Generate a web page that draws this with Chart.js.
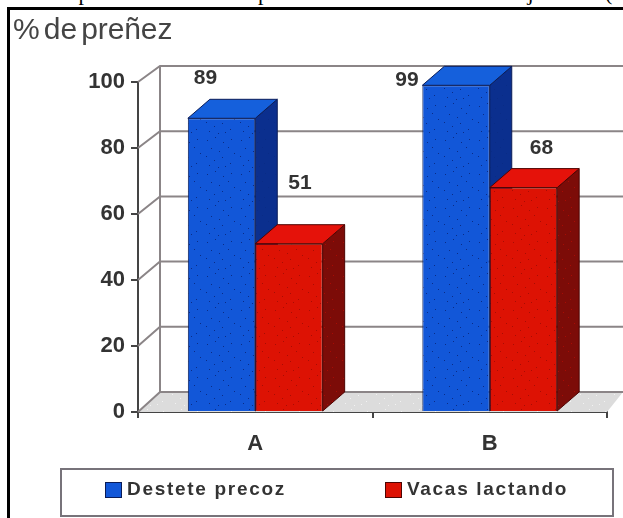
<!DOCTYPE html>
<html>
<head>
<meta charset="utf-8">
<style>
  html, body { margin: 0; padding: 0; background: #fff; overflow: hidden; width: 623px; height: 518px; }
  #chart_content { position: absolute; left: 0; top: 0; }
  #frame { position: absolute; left: 7px; top: 7px; width: 700px; height: 600px; border-left: 3px solid #000; border-top: 3px solid #000; }
  .cut { position: absolute; top: -20px; font: 22px/26px "Liberation Serif", serif; color: #000; white-space: pre; }
</style>
</head>
<body>
<div class="cut" style="left:12px">destete precoz sobre la</div>
<div class="cut" style="left:258px">preñez de vacas de</div>
<div class="cut" style="left:433px;word-spacing:10px">de la Hoja GC (E</div>
<div id="frame"></div>
<canvas id="chart_content" width="623" height="518"></canvas>
<script src="https://cdn.jsdelivr.net/npm/chart.js@4"></script>
<script>
var categories = ["A", "B"];
var seriesNames = ["Destete precoz", "Vacas lactando"];
var desteteValues = [89, 99];
var vacasValues = [51, 68];
var yTicks = [0, 20, 40, 60, 80, 100];
var yTitle = "% de preñez";

// label position relative to the top centre of the front face, per series then category
var labelOffsets = [
  [[-16, -40], [-49, -5]],
  [[11, -60], [18, -39]],
];
var blues = { front: "#1257d8", top: "#1560dc", side: "#0b2f8e", edge: "#0a1c58", dot: "#0a2c86" };
var reds = { front: "#dd1204", top: "#e5120a", side: "#7c0c08", edge: "#4e0402", dot: "#a80c04" };
var tones = [blues, reds];
var textColor = "#333";
var wallLine = "#8b8587";
var depthX = 22;
var depthY = 19;

// stipple tile for the bar faces, fixed dot positions
var dots = [[3, 4], [11, 1], [19, 6], [27, 3], [7, 12], [15, 15], [24, 11], [30, 17], [2, 20], [10, 24], [18, 21], [26, 27], [5, 29], [14, 31], [21, 30]];
function stipple(base, dot) {
  var tile = document.createElement("canvas");
  tile.width = 34;
  tile.height = 34;
  var c = tile.getContext("2d");
  c.fillStyle = base;
  c.fillRect(0, 0, 34, 34);
  c.fillStyle = dot;
  dots.forEach(function (d) {
    c.fillRect(d[0], d[1], 1, 1);
  });
  return c.createPattern(tile, "repeat");
}

var canvasElement = document.getElementById("chart_content");

function poly(c, pts, fill, stroke) {
  c.beginPath();
  pts.forEach(function (p, i) {
    if (i == 0) c.moveTo(p[0], p[1]);
    else c.lineTo(p[0], p[1]);
  });
  c.closePath();
  c.fillStyle = fill;
  c.fill();
  if (stroke) {
    c.strokeStyle = stroke;
    c.lineWidth = 1;
    c.stroke();
  }
}

var backdrop = {
  id: "backdrop",
  beforeDatasetsDraw: function (chart) {
    var c = chart.ctx;
    var y = chart.scales.y;
    var area = chart.chartArea;
    var y0 = y.getPixelForValue(0);
    var wallX = area.left + 22;
    var wallRight = 623;

    c.save();
    // floor
    poly(c, [[area.left, y0], [wallX, y0 - 20], [wallRight, y0 - 20], [area.right, y0]], stipple("#dcdcdc", "#f2f2f2"));
    // back wall lines, a bit closer together than the front ticks
    c.strokeStyle = wallLine;
    c.lineWidth = 2;
    yTicks.forEach(function (t) {
      var py = y.getPixelForValue(t);
      var back = y0 - 20 + (py - y0) * 326 / 330;
      c.beginPath();
      c.moveTo(area.left, py);
      c.lineTo(wallX, back);
      c.lineTo(wallRight, back);
      c.stroke();
    });
    c.beginPath();
    c.moveTo(wallX, y.getPixelForValue(100) - 16);
    c.lineTo(wallX, y0 - 20);
    c.stroke();

    // sides and tops of the bars
    chart.data.datasets.forEach(function (ds, i) {
      var tone = tones[i];
      chart.getDatasetMeta(i).data.forEach(function (bar) {
        var l = bar.x - bar.width / 2;
        var r = bar.x + bar.width / 2;
        poly(c, [[r, bar.y], [r + depthX, bar.y - depthY], [r + depthX, bar.base - depthY], [r, bar.base]], stipple(tone.side, tone.dot), tone.edge);
        poly(c, [[l, bar.y], [l + depthX, bar.y - depthY], [r + depthX, bar.y - depthY], [r, bar.y]], tone.top, tone.edge);
      });
    });
    c.restore();
  },
  afterDatasetsDraw: function (chart) {
    var c = chart.ctx;
    c.save();
    // value labels
    c.font = "bold 21px 'Liberation Sans', Arial, sans-serif";
    c.fillStyle = textColor;
    c.textAlign = "center";
    c.textBaseline = "middle";
    chart.data.datasets.forEach(function (ds, i) {
      chart.getDatasetMeta(i).data.forEach(function (bar, j) {
        c.fillText(ds.data[j], bar.x + labelOffsets[i][j][0], bar.y + labelOffsets[i][j][1]);
      });
    });

    // title
    c.font = "30px 'Liberation Sans', Arial, sans-serif";
    c.letterSpacing = "-0.1px";
    c.wordSpacing = "-4px";
    c.fillStyle = "#444";
    c.textAlign = "left";
    c.fillText(yTitle, 13, 31);
    c.letterSpacing = "0px";
    c.wordSpacing = "0px";

    // legend box
    c.strokeStyle = "#77737a";
    c.lineWidth = 2;
    c.strokeRect(61, 469, 552, 47);
    var swatchX = [105, 385];
    c.font = "bold 19px 'Liberation Sans', Arial, sans-serif";
    c.letterSpacing = "1.7px";
    chart.data.datasets.forEach(function (ds, i) {
      c.fillStyle = tones[i].front;
      c.fillRect(swatchX[i], 482, 17, 16);
      c.strokeStyle = tones[i].edge;
      c.lineWidth = 1;
      c.strokeRect(swatchX[i] + 0.5, 482.5, 16, 15);
      c.fillStyle = textColor;
      c.fillText(ds.label, swatchX[i] + 22, 490);
    });
    c.restore();
  },
};

var config = {
  type: "bar",
  data: {
    labels: categories,
    datasets: [
      {
        label: seriesNames[0],
        data: desteteValues,
        backgroundColor: stipple(blues.front, blues.dot),
        borderColor: blues.edge,
        borderWidth: 1,
      },
      {
        label: seriesNames[1],
        data: vacasValues,
        backgroundColor: stipple(reds.front, reds.dot),
        borderColor: reds.edge,
        borderWidth: 1,
      },
    ],
  },
  options: {
    responsive: false,
    animation: false,
    layout: { padding: { top: 82, right: 16, left: 0, bottom: 0 } },
    datasets: { bar: { categoryPercentage: 0.575, barPercentage: 1 } },
    scales: {
      x: {
        grid: { offset: true, drawOnChartArea: false, color: "#444", tickLength: 6, lineWidth: 2 },
        border: { color: "#444", width: 2 },
        ticks: { color: textColor, padding: 13, maxRotation: 0, font: { family: "'Liberation Sans'", size: 22, weight: "bold" } },
        afterFit: function (s) {
          s.height = 106;
        },
      },
      y: {
        min: 0,
        max: 100,
        afterBuildTicks: function (s) {
          s.ticks = yTicks.map(function (t) {
            return { value: t };
          });
        },
        grid: { drawOnChartArea: false, color: "#444", tickLength: 7, lineWidth: 2 },
        border: { color: "#444", width: 2 },
        ticks: { color: textColor, padding: 6, font: { family: "'Liberation Sans'", size: 22, weight: "bold" } },
        afterFit: function (s) {
          s.width = 138;
        },
      },
    },
    plugins: {
      legend: { display: false },
      tooltip: { enabled: false },
    },
  },
  plugins: [backdrop],
};

var content_chart = new Chart(canvasElement, config);
</script>
</body>
</html>
